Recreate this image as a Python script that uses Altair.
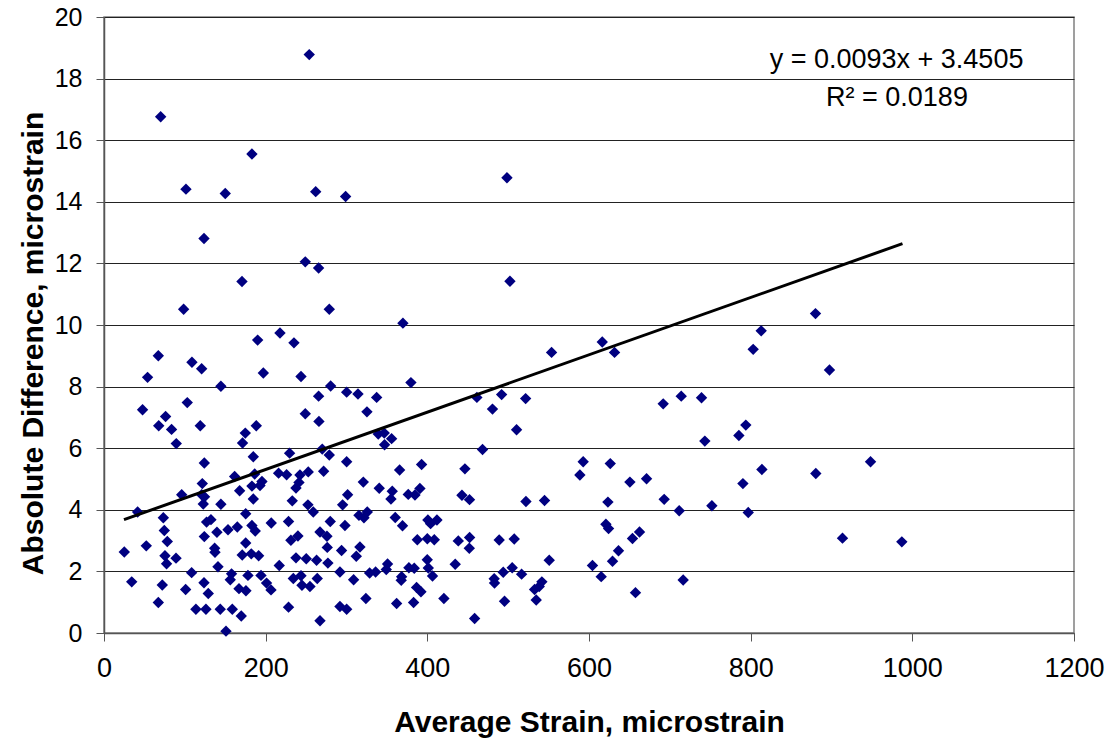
import altair as alt
import pandas as pd

# Average strain (microstrain)
strain = [
    253.9, 70.1, 183.0, 101.4, 150.0, 261.9, 298.9, 123.7, 249.0, 265.5, 170.7, 98.5, 278.7, 217.7,
    498.5, 502.2, 369.8, 880.2, 813.0,
    616.4, 631.6, 803.1, 897.5, 691.8, 714.1, 739.2, 743.3, 785.4, 794.0, 592.8, 588.7, 626.3, 650.6,
    671.2, 623.4, 693.0, 711.6, 752.0, 790.4, 813.9, 797.0, 880.6, 948.3, 620.9, 624.2, 662.5, 653.8,
    636.5, 629.1, 604.3, 615.1, 657.5, 716.5, 913.6, 987.0,
    553.7, 379.7, 300.2, 314.2, 337.3, 325.3, 461.3, 491.9, 521.6, 480.6, 510.4, 339.3, 346.7, 355.8,
    347.1, 468.3, 300.2, 392.9, 365.7, 446.5, 320.8, 340.5, 356.6, 355.0, 376.4, 384.7, 390.8, 301.4,
    295.2, 442.8, 452.2, 522.0, 545.0, 315.4, 321.6, 325.7, 298.1, 360.3, 369.3, 400.7, 404.0, 411.9,
    387.6, 400.0, 408.6, 438.3, 452.3, 451.9, 488.9, 507.5, 293.9, 316.6, 312.1, 350.8, 349.2, 328.6,
    336.0, 291.9, 399.9, 401.2, 377.2, 383.8, 406.4, 368.2, 367.7, 308.8, 434.5, 482.7, 483.1, 493.9,
    505.0, 516.6, 550.8, 541.7, 538.4, 532.7, 534.7, 495.5, 386.7, 392.1, 420.5, 383.0, 362.0, 324.0,
    300.2, 291.9, 458.5,
    190.1, 235.0, 67.2, 108.8, 120.8, 53.9, 197.1, 243.7, 144.6, 280.4, 265.5, 47.7, 103.0, 76.2,
    67.7, 83.6, 119.1, 89.4, 249.0, 265.9, 188.4, 174.8, 171.4, 229.6, 270.0, 278.7, 184.7, 124.1,
    252.7, 271.7, 216.0, 225.9, 242.4, 186.4, 161.6, 241.2, 237.5, 195.4, 193.0, 183.0, 121.6, 167.8,
    96.1, 120.8, 124.4, 122.8, 144.6, 184.7, 232.9, 252.3, 258.9, 41.6, 73.4, 74.6, 78.3, 52.3,
    25.1, 75.4, 77.4, 89.1, 34.3, 72.1, 67.2, 101.0, 108.4, 113.7, 126.1, 123.7, 129.0, 124.1,
    126.9, 132.3, 139.7, 136.9, 137.3, 141.0, 143.8, 150.9, 158.7, 169.8, 153.4, 164.9, 175.3, 183.0,
    187.1, 175.3, 171.0, 182.2, 191.3, 157.8, 156.2, 167.0, 175.6, 178.1, 194.2, 201.1, 206.6, 206.9,
    216.8, 228.3, 231.2, 239.9, 237.5, 250.2, 263.0, 234.2, 243.7, 244.9, 254.8, 263.8, 228.3, 267.2,
    279.9, 267.2, 275.8, 276.2, 277.0,
]

# Absolute difference (microstrain)
diff = [
    18.78, 16.76, 15.55, 14.41, 14.27, 14.33, 14.17, 12.81, 12.05, 11.85, 11.41, 10.51, 10.51, 9.74,
    14.78, 11.42, 10.06, 10.37, 9.81,
    9.45, 9.11, 9.21, 8.54, 7.44, 7.69, 7.64, 6.23, 6.41, 6.75, 5.56, 5.13, 5.50, 4.90,
    5.01, 4.25, 4.34, 3.97, 4.13, 4.85, 5.31, 3.91, 5.18, 5.56, 3.53, 3.39, 3.28, 3.07,
    2.67, 2.33, 2.19, 1.83, 1.31, 1.72, 3.08, 2.96,
    9.11, 8.13, 7.82, 7.76, 7.65, 7.18, 7.65, 7.74, 7.61, 7.27, 6.60, 6.46, 6.49, 6.31,
    6.11, 5.96, 5.56, 5.47, 5.29, 5.33, 4.90, 4.70, 4.60, 4.35, 4.50, 4.48, 4.69, 4.49,
    4.16, 4.47, 4.33, 4.27, 4.30, 3.82, 3.74, 3.93, 3.49, 3.75, 3.48, 3.67, 3.55, 3.67,
    3.03, 3.06, 3.03, 2.99, 3.10, 2.75, 3.02, 3.05, 2.68, 2.79, 2.49, 2.24, 2.06, 1.95,
    1.98, 1.98, 2.38, 2.11, 2.12, 2.10, 1.85, 1.83, 1.71, 1.73, 2.23, 1.76, 1.62, 1.97,
    2.12, 1.91, 2.36, 1.66, 1.51, 1.41, 1.07, 1.03, 1.48, 1.34, 1.12, 0.99, 0.96, 1.12,
    0.77, 0.86, 0.47,
    9.51, 9.42, 9.00, 8.79, 8.58, 8.30, 8.44, 8.33, 8.01, 8.02, 7.69, 7.25, 7.48, 7.03,
    6.73, 6.61, 6.73, 6.15, 7.12, 6.87, 6.73, 6.49, 6.17, 5.84, 5.97, 5.78, 5.72, 5.52,
    5.23, 5.25, 5.19, 5.14, 5.13, 5.16, 5.08, 4.89, 4.71, 4.92, 4.79, 4.77, 4.85, 4.62,
    4.49, 4.49, 4.42, 4.19, 4.18, 4.35, 4.29, 4.16, 3.93, 3.93, 3.74, 3.33, 2.97, 2.83,
    2.63, 2.51, 2.25, 2.43, 1.66, 1.56, 0.99, 1.41, 1.96, 0.77, 0.77, 1.63, 1.28, 3.13,
    3.60, 3.68, 3.27, 2.75, 2.62, 2.15, 0.77, 0.06, 0.77, 0.55, 3.35, 3.44, 3.87, 3.49,
    3.31, 2.92, 2.53, 2.57, 2.51, 1.92, 1.73, 1.44, 1.37, 1.87, 1.87, 1.62, 1.40, 3.57,
    2.19, 3.62, 3.01, 3.15, 2.44, 2.41, 2.36, 1.77, 1.86, 1.55, 1.51, 1.77, 0.84, 0.40,
    3.62, 3.28, 3.14, 2.78, 2.27,
]

# Trendline end points as drawn in the chart (y = 0.0093x + 3.4505)
trend_x = [24.7, 987.8]
trend_y = [3.68, 12.64]

x_ticks = [0, 200, 400, 600, 800, 1000, 1200]
y_ticks = [0, 2, 4, 6, 8, 10, 12, 14, 16, 18, 20]
eq_lines = ["y = 0.0093x + 3.4505", "R\u00b2 = 0.0189"]

df = pd.DataFrame({"strain": strain, "diff": diff})
trend_df = pd.DataFrame({"strain": trend_x, "diff": trend_y})

FONT = "Liberation Sans"

x_scale = alt.Scale(domain=[0, 1200], nice=False, zero=False)
y_scale = alt.Scale(domain=[0, 20], nice=False, zero=False)

x_axis = alt.Axis(
    title="Average Strain, microstrain",
    values=x_ticks,
    format="d",
    grid=False,
    domainColor="#555555",
    domainWidth=1.5,
    tickColor="#555555",
    tickSize=8,
    labelFontSize=27,
    labelFont=FONT,
    labelColor="#000000",
    labelPadding=14,
    labelFlush=False,
    titleFont=FONT,
    titleFontSize=30,
    titleFontWeight="bold",
    titleColor="#000000",
    titleBaseline="alphabetic",
    titleY=98,
)

y_axis = alt.Axis(
    title="Absolute Difference, microstrain",
    values=y_ticks,
    format="d",
    grid=True,
    gridColor="#222222",
    gridWidth=1,
    domainColor="#555555",
    domainWidth=1.5,
    tickColor="#555555",
    tickSize=8,
    labelFontSize=25,
    labelFont=FONT,
    labelColor="#000000",
    labelPadding=14,
    labelFlush=False,
    titleFont=FONT,
    titleFontSize=30,
    titleFontWeight="bold",
    titleColor="#000000",
    titleAngle=270,
    titleBaseline="alphabetic",
    titleX=-62,
    titleY=326,
    titleAlign="center",
)

points = alt.Chart(df).mark_point(
    shape="diamond", filled=True, color="#000080", size=130, opacity=1
).encode(
    x=alt.X("strain:Q", scale=x_scale, axis=x_axis),
    y=alt.Y("diff:Q", scale=y_scale, axis=y_axis),
)

trend = alt.Chart(trend_df).mark_line(
    color="#000000", strokeWidth=3
).encode(
    x=alt.X("strain:Q", scale=x_scale),
    y=alt.Y("diff:Q", scale=y_scale),
)

eq1 = alt.Chart(pd.DataFrame({"t": [eq_lines[0]]})).mark_text(
    font=FONT, fontSize=27, color="#000000", align="center", baseline="alphabetic"
).encode(x=alt.datum(980.5, scale=x_scale), y=alt.datum(18.34, scale=y_scale), text="t:N")

eq2 = alt.Chart(pd.DataFrame({"t": [eq_lines[1]]})).mark_text(
    font=FONT, fontSize=27, color="#000000", align="center", baseline="alphabetic"
).encode(x=alt.datum(981.0, scale=x_scale), y=alt.datum(17.12, scale=y_scale), text="t:N")

chart = alt.layer(points, trend, eq1, eq2).properties(
    width=970,
    height=616,
    autosize=alt.AutoSizeParams(type="none"),
    padding={"left": 104, "top": 17, "right": 35, "bottom": 107},
    background="#ffffff",
).configure_view(
    stroke="#808080", strokeWidth=1.5
)

chart.save("out.html", embed_options={"renderer": "svg", "actions": False})
